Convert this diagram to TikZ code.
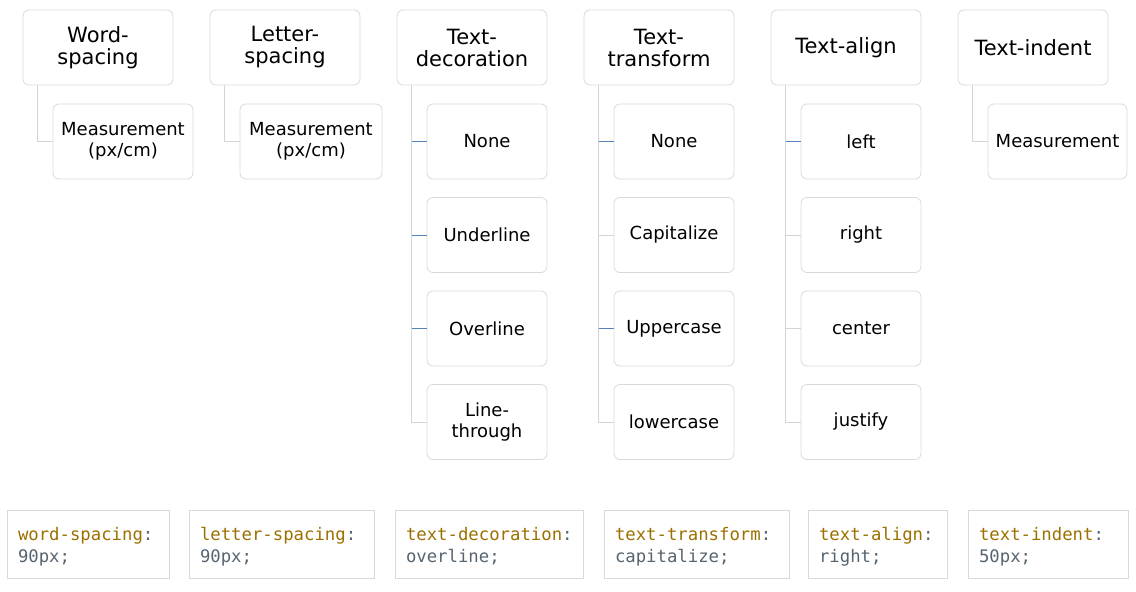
\documentclass[tikz,border=0pt]{standalone}
\usepackage{fontspec}
\setmainfont{DejaVu Sans}
\setmonofont{DejaVu Sans Mono}
\definecolor{boxgray}{RGB}{217,217,217}
\definecolor{linegray}{RGB}{212,212,212}
\definecolor{stubblue}{RGB}{84,130,188}
\definecolor{propcol}{RGB}{156,112,0}
\definecolor{valcol}{RGB}{86,100,112}
\newcommand{\prop}[2]{\textcolor{propcol}{#1}:\\#2}
\begin{document}
\begin{tikzpicture}[x=1pt, y=-1pt,
  box/.style = {draw=boxgray, line width=0.8pt, rounded corners=6pt, align=center,
                minimum height=75pt, inner sep=2pt},
  head/.style = {box, minimum width=150pt, font=\fontsize{21}{22}\selectfont},
  item/.style = {box, minimum width=120pt, font=\fontsize{18}{21}\selectfont},
  code/.style = {draw=boxgray, line width=0.8pt, minimum height=68pt, inner xsep=11pt,
                 align=left, text=valcol, text depth=20pt,
                 font=\ttfamily\fontsize{17.3}{22}\selectfont},
  tree/.style = {draw=linegray, line width=0.8pt},
  stub/.style = {draw=stubblue, line width=0.8pt}]
  \useasboundingbox (0,0) rectangle (1136,592);

  % heads
  \node[head] (ws) at (98,47.5)   {Word-\\spacing};
  \node[head] (ls) at (285,47.5)  {Letter-\\spacing};
  \node[head] (td) at (472,47.5)  {Text-\\decoration};
  \node[head] (tt) at (659,47.5)  {Text-\\transform};
  \node[head] (ta) at (846,47.5)  {Text-align};
  \node[head] (ti) at (1033,47.5) {Text-indent};

  % children
  \node[item, minimum width=140pt] (wsm) at (123,141.5)   {Measurement\\(px/cm)};
  \node[item, minimum width=142pt] (lsm) at (311,141.5)   {Measurement\\(px/cm)};
  \node[item, minimum width=139pt] (tim) at (1057.5,141.5) {Measurement};

  \node[item] (td1) at (487,141.5) {None};
  \node[item] (td2) at (487,235)   {Underline};
  \node[item] (td3) at (487,328.5) {Overline};
  \node[item] (td4) at (487,422)   {Line-\\through};

  \node[item] (tt1) at (674,141.5) {None};
  \node[item] (tt2) at (674,235)   {Capitalize};
  \node[item] (tt3) at (674,328.5) {Uppercase};
  \node[item] (tt4) at (674,422)   {lowercase};

  \node[item] (ta1) at (861,141.5) {left};
  \node[item] (ta2) at (861,235)   {right};
  \node[item] (ta3) at (861,328.5) {center};
  \node[item] (ta4) at (861,422)   {justify};

  % tree lines
  \coordinate (wsv) at ([xshift=15pt]ws.south west);
  \coordinate (lsv) at ([xshift=15pt]ls.south west);
  \coordinate (tdv) at ([xshift=15pt]td.south west);
  \coordinate (ttv) at ([xshift=15pt]tt.south west);
  \coordinate (tav) at ([xshift=15pt]ta.south west);
  \coordinate (tiv) at ([xshift=15pt]ti.south west);
  \draw[tree]
  (wsv) |- (wsm.west)
  (lsv) |- (lsm.west)
  (tiv) |- (tim.west)
  (tdv) |- (td4.west)
  (ttv) |- (tt4.west)
  (tav) |- (ta4.west)
  (ttv |- tt2.west) -- (tt2.west)
  (tav |- ta2.west) -- (ta2.west)
  (tav |- ta3.west) -- (ta3.west);
  \draw[stub]
  (tdv |- td1.west) -- (td1.west)
  (tdv |- td2.west) -- (td2.west)
  (tdv |- td3.west) -- (td3.west)
  (ttv |- tt1.west) -- (tt1.west)
  (ttv |- tt3.west) -- (tt3.west)
  (tav |- ta1.west) -- (ta1.west);

  % code samples
  \node[code, text width=140pt] (cws) at (88,544)    {\prop{word-spacing}{90px;}};
  \node[code, text width=163pt] (cls) at (281.5,544) {\prop{letter-spacing}{90px;}};
  \node[code, text width=166pt] (ctd) at (489,544)   {\prop{text-decoration}{overline;}};
  \node[code, text width=163pt] (ctt) at (696.5,544) {\prop{text-transform}{capitalize;}};
  \node[code, text width=117pt] (cta) at (877.5,544) {\prop{text-align}{right;}};
  \node[code, text width=138pt] (cti) at (1048,544)  {\prop{text-indent}{50px;}};
\end{tikzpicture}
\end{document}
